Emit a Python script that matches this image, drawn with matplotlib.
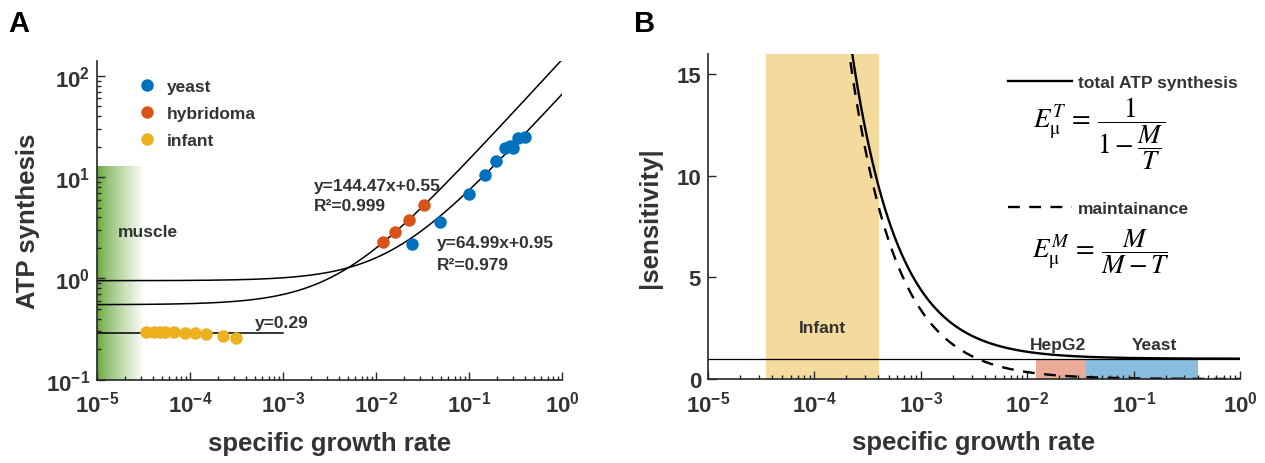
import numpy as np
import matplotlib
matplotlib.use("Agg")
import matplotlib.pyplot as plt
from matplotlib.lines import Line2D
from matplotlib.ticker import FuncFormatter, LogLocator, NullFormatter

plt.rcParams['font.family'] = ['Liberation Sans', 'DejaVu Sans']
plt.rcParams['mathtext.fontset'] = 'custom'
plt.rcParams['mathtext.rm'] = 'Liberation Sans:bold'
plt.rcParams['mathtext.bf'] = 'Liberation Sans:bold'
plt.rcParams['mathtext.it'] = 'Liberation Sans:bold:italic'

# ---------------- data: panel A ----------------
yeast_mu = [0.0244, 0.0492, 0.0987, 0.147, 0.197, 0.244, 0.274, 0.297, 0.340, 0.397]
yeast_atp = [2.19, 3.58, 6.83, 10.6, 14.5, 19.4, 20.3, 19.4, 24.3, 24.7]
hybridoma_mu = [0.0119, 0.0158, 0.0226, 0.0326]
hybridoma_atp = [2.27, 2.87, 3.78, 5.32]
infant_mu = [3.40e-5, 4.07e-5, 4.72e-5, 5.35e-5, 6.68e-5, 8.77e-5, 1.12e-4, 1.50e-4, 2.27e-4, 3.15e-4]
infant_atp = [0.299, 0.299, 0.296, 0.294, 0.294, 0.289, 0.287, 0.281, 0.272, 0.256]

fit_hybridoma = (144.47, 0.55)
fit_yeast = (64.99, 0.95)
infant_level = 0.29
infant_range = (1e-5, 1e-3)
muscle_range = (1e-5, 3.3e-5)
muscle_top = 13.0

# ---------------- data: panel B ----------------
sens_c = 0.0034          # M / k  (maintenance / growth coefficient)
infant_band = (3.5e-5, 4.05e-4)
hepg2_band = (0.0121, 0.0355)
yeast_band = (0.0355, 0.405)
band_height = 1.0

C_BLUE = '#0072BD'
C_RED = '#D95319'
C_YEL = '#EDB120'
TXT = '#333333'
AX = '#262626'

fig = plt.figure(figsize=(12.65, 4.64), dpi=100)
axA = fig.add_axes([0.0767, 0.1795, 0.3676, 0.6875])
axB = fig.add_axes([0.5597, 0.181, 0.4206, 0.7004])

def sci(v, pos):
    e = int(round(np.log10(v)))
    return r'$\mathbf{10^{%d}}$' % e

def style(ax):
    for s in ['top', 'right']:
        ax.spines[s].set_visible(False)
    for s in ['left', 'bottom']:
        ax.spines[s].set_color(AX)
        ax.spines[s].set_linewidth(1.2)
    ax.tick_params(which='both', direction='in', colors=AX, labelsize=16, width=1.0,
                   labelcolor=TXT)
    ax.tick_params(which='major', length=6)
    ax.tick_params(which='minor', length=3)

# ================= Panel A =================
ax = axA
ax.set_xscale('log')
ax.set_yscale('log')
ax.set_xlim(1e-5, 1.0)
ax.set_ylim(0.1, 10**2.15)

# muscle gradient
n = 80
edges = np.logspace(np.log10(muscle_range[0]), np.log10(muscle_range[1]), n + 1)
g0 = np.array([0.40, 0.65, 0.22])
for i in range(n):
    t = (i + 0.5) / n
    col = g0 + (1 - g0) * t ** 0.8
    ax.fill_between([edges[i], edges[i + 1] * 1.0005], 0.1, muscle_top, color=col, lw=0, zorder=0)

xx = np.logspace(-5, 0, 500)
ax.plot(xx, fit_hybridoma[0] * xx + fit_hybridoma[1], color='black', lw=1.1, zorder=2)
ax.plot(xx, fit_yeast[0] * xx + fit_yeast[1], color='black', lw=1.1, zorder=2)
ax.plot(list(infant_range), [infant_level, infant_level], color='black', lw=1.1, zorder=2)

ax.plot(yeast_mu, yeast_atp, 'o', color=C_BLUE, ms=9, mec='none', zorder=3, label='yeast')
ax.plot(hybridoma_mu, hybridoma_atp, 'o', color=C_RED, ms=9, mec='none', zorder=3, label='hybridoma')
ax.plot(infant_mu, infant_atp, 'o', color=C_YEL, ms=9, mec='none', zorder=3, label='infant')

leg = ax.legend(loc='upper left', bbox_to_anchor=(0.0925, 0.943), frameon=False,
                handlelength=0.8, handletextpad=0.75, labelspacing=0.68,
                borderpad=0, borderaxespad=0, prop={'weight': 'bold', 'size': 12.5})
for t in leg.get_texts():
    t.set_color(TXT)

tkw = dict(fontsize=12.5, fontweight='bold', color=TXT)
ax.text(2.14e-3, 8.2, 'y=144.47x+0.55', va='center', ha='left', **tkw)
ax.text(2.14e-3, 5.2, 'R²=0.999', va='center', ha='left', **tkw)
ax.text(0.045, 2.24, 'y=64.99x+0.95', va='center', ha='left', **tkw)
ax.text(0.045, 1.36, 'R²=0.979', va='center', ha='left', **tkw)
ax.text(5.0e-4, 0.37, 'y=0.29', va='center', ha='left', **tkw)
ax.text(1.67e-5, 2.94, 'muscle', va='center', ha='left', **tkw)

style(ax)
ax.xaxis.set_major_locator(LogLocator(base=10, numticks=10))
ax.xaxis.set_minor_locator(LogLocator(base=10, subs=np.arange(2, 10), numticks=20))
ax.yaxis.set_major_locator(LogLocator(base=10, numticks=10))
ax.yaxis.set_minor_locator(LogLocator(base=10, subs=np.arange(2, 10), numticks=20))
ax.xaxis.set_major_formatter(FuncFormatter(sci))
ax.yaxis.set_major_formatter(FuncFormatter(sci))
ax.xaxis.set_minor_formatter(NullFormatter())
ax.yaxis.set_minor_formatter(NullFormatter())
ax.tick_params(axis='x', pad=8)
ax.tick_params(axis='y', pad=5)
ax.set_xlabel('specific growth rate', fontsize=18.5, fontweight='bold', color=TXT, labelpad=10)
ax.set_ylabel('ATP synthesis', fontsize=18.5, fontweight='bold', color=TXT, labelpad=4)

# ================= Panel B =================
ax = axB
ax.set_xscale('log')
ax.set_xlim(1e-5, 1.0)
ax.set_ylim(0, 16)

ax.axvspan(infant_band[0], infant_band[1], ymin=0, ymax=1, color='#F4DA9C', lw=0, zorder=0)
ax.fill_between(list(hepg2_band), 0, band_height, color='#E9AB98', lw=0, zorder=0)
ax.fill_between(list(yeast_band), 0, band_height, color='#88BDE0', lw=0, zorder=0)

mu = np.logspace(-5, 0, 800)
total = 1 + sens_c / mu
maint = sens_c / mu
DASH = (0, (5, 4))
ax.axhline(1.0, color='black', lw=0.9, zorder=1)
ax.plot(mu, total, color='black', lw=1.7, zorder=2, label='total ATP synthesis')
ax.plot(mu, maint, color='black', lw=1.7, ls=DASH, zorder=2, label='maintainance')

ax.text(1.18e-4, 2.56, 'Infant', ha='center', va='center', **tkw)
ax.text(0.0195, 1.72, 'HepG2', ha='center', va='center', **tkw)
ax.text(0.158, 1.70, 'Yeast', ha='center', va='center', **tkw)

h = [Line2D([], [], color='black', lw=1.7),
     Line2D([], [], color='black', lw=1.7, ls=DASH)]
legB = ax.legend(h, ['total ATP synthesis', 'maintainance'], loc='upper left',
                 bbox_to_anchor=(0.564, 0.937), frameon=False, handlelength=3.7,
                 handletextpad=0.3, labelspacing=6.4, borderpad=0, borderaxespad=0,
                 prop={'weight': 'bold', 'size': 12.5})
for t in legB.get_texts():
    t.set_color(TXT)

ax.text(0.735, 0.758, r'$E_{\mathrm{\mu}}^{T}\,=\,\dfrac{1}{1-\dfrac{M}{T}}$', transform=ax.transAxes,
        ha='center', va='center', fontsize=19.5, math_fontfamily='stix', color='black')
ax.text(0.738, 0.395, r'$E_{\mathrm{\mu}}^{M}\,=\,\dfrac{M}{M-T}$', transform=ax.transAxes,
        ha='center', va='center', fontsize=19.5, math_fontfamily='stix', color='black')

style(ax)
ax.xaxis.set_major_locator(LogLocator(base=10, numticks=10))
ax.xaxis.set_minor_locator(LogLocator(base=10, subs=np.arange(2, 10), numticks=20))
ax.xaxis.set_major_formatter(FuncFormatter(sci))
ax.xaxis.set_minor_formatter(NullFormatter())
ax.set_yticks([0, 5, 10, 15])
ax.set_yticklabels(['0', '5', '10', '15'], fontweight='bold')
ax.tick_params(axis='x', pad=8)
ax.tick_params(axis='y', pad=5)
ax.set_xlabel('specific growth rate', fontsize=18.5, fontweight='bold', color=TXT, labelpad=10)
ax.set_ylabel('|sensitivity|', fontsize=18.5, fontweight='bold', color=TXT, labelpad=10)

fig.text(8 / 1265, 1 - 24 / 464, 'A', fontsize=21, fontweight='bold', color='black', va='center')
fig.text(634 / 1265, 1 - 24 / 464, 'B', fontsize=21, fontweight='bold', color='black', va='center')

fig.savefig('out.png', dpi=100)
